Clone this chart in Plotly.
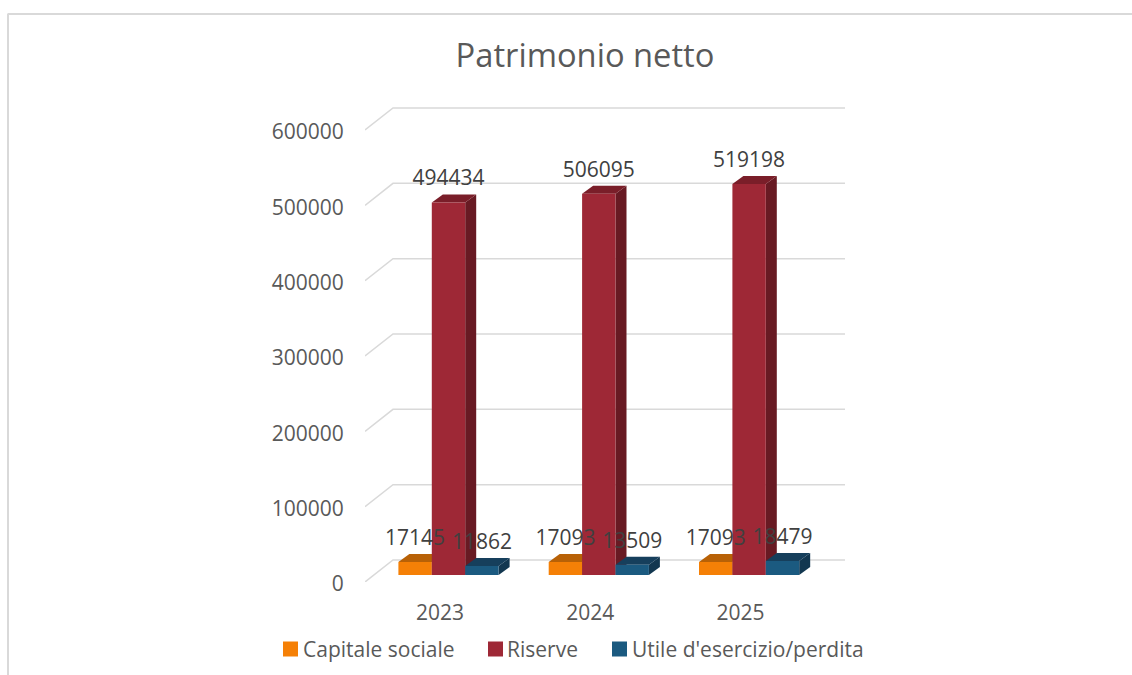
import plotly.graph_objects as go

years = ["2023", "2024", "2025"]
capitale = [17145, 17093, 17093]
riserve = [494434, 506095, 519198]
utile = [11862, 13509, 18479]
y_ticks = [0, 100000, 200000, 300000, 400000, 500000, 600000]
series = [
    ("Capitale sociale", capitale, "#F58006", "#B86106", "#B86106"),
    ("Riserve", riserve, "#9E2836", "#7A1E29", "#681A23"),
    ("Utile d'esercizio/perdita", utile, "#1B5A80", "#163F5C", "#123750"),
]

W, H = 1132, 675
L, R, T, B = 365, 845, 100, 582
PX_CAT = 150.3           # pixels per category
PX_VAL = 75.33 / 100000  # pixels per value unit
X0 = 440                 # pixel of the first category on the front plane
xr = [(L - X0) / PX_CAT, (R - X0) / PX_CAT]
yr = [0, (B - T) / PX_VAL]

# oblique projection helpers (pixels to axis units)
dx = lambda px: px / PX_CAT
dy = lambda px: px / PX_VAL

WALL_X, WALL_Y = dx(28), dy(22)
BAR_SHIFT_X, BAR_BASE = dx(8.5), dy(7)
DEPTH_X, DEPTH_Y = dx(11), dy(8)
BAR_W = dx(33.4)
LABEL_LIFT = dy(4)

fig = go.Figure()

# gridlines: front edge to the back wall, then along the wall
for t in y_ticks:
    fig.add_trace(go.Scatter(
        x=[xr[0], xr[0] + WALL_X, xr[1]],
        y=[t, t + WALL_Y, t + WALL_Y],
        mode="lines", line=dict(color="#D9D9D9", width=1.5),
        hoverinfo="skip", showlegend=False, zorder=0, cliponaxis=False))

z = 1
for s, (name, vals, front, top, side) in enumerate(series):
    xs = [i + BAR_SHIFT_X + (s - 1) * BAR_W for i in range(len(years))]
    for x, v in zip(xs, vals):
        xl, xrr = x - BAR_W / 2, x + BAR_W / 2
        yt = v + BAR_BASE
        fig.add_trace(go.Scatter(
            x=[xrr, xrr + DEPTH_X, xrr + DEPTH_X, xrr, xrr],
            y=[BAR_BASE, BAR_BASE + DEPTH_Y, yt + DEPTH_Y, yt, BAR_BASE],
            fill="toself", fillcolor=side, mode="lines", line=dict(width=0, color=side),
            hoverinfo="skip", showlegend=False, zorder=z))
        fig.add_trace(go.Scatter(
            x=[xl, xrr, xrr + DEPTH_X, xl + DEPTH_X, xl],
            y=[yt, yt, yt + DEPTH_Y, yt + DEPTH_Y, yt],
            fill="toself", fillcolor=top, mode="lines", line=dict(width=0, color=top),
            hoverinfo="skip", showlegend=False, zorder=z))
    fig.add_trace(go.Bar(
        x=xs, y=vals, base=BAR_BASE, width=BAR_W, name=name, showlegend=False,
        marker=dict(color=front, line=dict(width=0)), zorder=z + 1))
    z += 2

for s, (name, vals, *_rest) in enumerate(series):
    xs = [i + BAR_SHIFT_X + (s - 1) * BAR_W for i in range(len(years))]
    fig.add_trace(go.Scatter(
        x=xs, y=[v + BAR_BASE + DEPTH_Y + LABEL_LIFT for v in vals],
        mode="text", text=[str(v) for v in vals], textposition="top center",
        textfont=dict(family="Open Sans", size=21, color="#404040"),
        hoverinfo="skip", showlegend=False, zorder=20, cliponaxis=False))

# legend key: swatch left edge and text left edge, in pixels
legend_pos = [(283, 301), (488, 505), (612, 630)]
LEG_Y, SW = 649, 15
shapes = [
    dict(type="line", xref="paper", yref="paper", x0=7.5 / W, x1=1,
         y0=1 - 14 / H, y1=1 - 14 / H, line=dict(color="#D9D9D9", width=2)),
    dict(type="line", xref="paper", yref="paper", x0=8 / W, x1=8 / W,
         y0=1 - 14 / H, y1=0, line=dict(color="#D9D9D9", width=2)),
]
annotations = []
for (sx, tx), (name, _v, front, *_r) in zip(legend_pos, series):
    shapes.append(dict(type="rect", xref="paper", yref="paper", line=dict(width=0), fillcolor=front,
                       x0=sx / W, x1=(sx + SW) / W,
                       y0=1 - (LEG_Y + SW / 2) / H, y1=1 - (LEG_Y - SW / 2) / H))
    annotations.append(dict(text=name, xref="paper", yref="paper", x=tx / W, y=1 - LEG_Y / H,
                            xanchor="left", yanchor="middle", showarrow=False,
                            font=dict(family="Open Sans", size=21, color="#595959")))

fig.update_layout(
    width=W, height=H, autosize=False,
    margin=dict(l=0, r=0, t=0, b=0, autoexpand=False),
    paper_bgcolor="white", plot_bgcolor="rgba(0,0,0,0)",
    barmode="overlay", showlegend=False,
    font=dict(family="Open Sans", size=21, color="#595959"),
    title=dict(text="Patrimonio netto", x=585 / W, xanchor="center", y=1 - 56 / H, yanchor="middle",
               font=dict(family="Open Sans", size=32.7, color="#595959")),
    xaxis=dict(domain=[L / W, R / W], range=xr, tickmode="array", tickvals=list(range(len(years))),
               ticktext=years, showgrid=False, zeroline=False, showline=False, ticks="outside",
               ticklen=12, tickcolor="rgba(0,0,0,0)", tickfont=dict(size=21, color="#595959")),
    yaxis=dict(domain=[1 - B / H, 1 - T / H], range=yr, tickmode="array", tickvals=y_ticks,
               ticktext=[str(t) for t in y_ticks], showgrid=False, zeroline=False, showline=False,
               ticks="outside", ticklen=16, tickcolor="rgba(0,0,0,0)", ticklabelshift=2,
               tickfont=dict(size=21, color="#595959")),
    shapes=shapes, annotations=annotations,
)
fig.write_html("out.html", config={"displayModeBar": False},
               post_script="document.body.style.margin='0';")
